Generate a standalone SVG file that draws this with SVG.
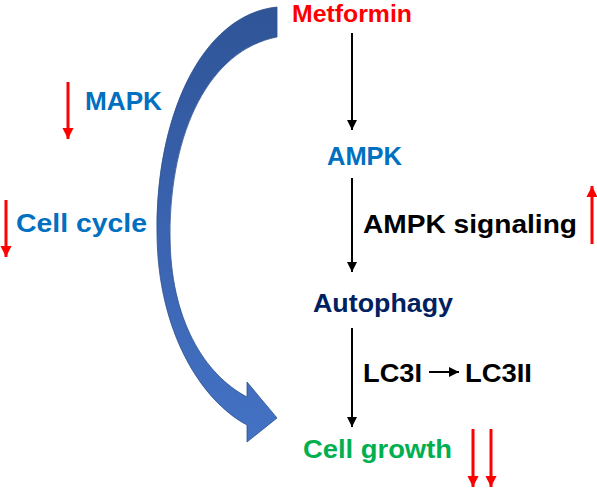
<svg xmlns="http://www.w3.org/2000/svg" width="597" height="488" viewBox="0 0 597 488">
<style>
text{font-family:"Liberation Sans",Arial,sans-serif;font-weight:bold;font-size:26px}
.blk{stroke:#000;stroke-width:2;fill:none}
.red{stroke:#FF0000;stroke-width:3;fill:none}
</style>
<defs>
<linearGradient id="g" x1="0" y1="0" x2="0" y2="1">
<stop offset="0" stop-color="#2F5597"/>
<stop offset="0.5" stop-color="#3A63B0"/>
<stop offset="1" stop-color="#4472C4"/>
</linearGradient>
<marker id="ab" viewBox="0 0 10 10" refX="10" refY="5" markerWidth="5" markerHeight="5" orient="auto" markerUnits="strokeWidth">
<path d="M0,0 L10,5 L0,10 Z" fill="#000"/>
</marker>
<marker id="ar" viewBox="0 0 10 10" refX="10" refY="5" markerWidth="4" markerHeight="3.7" orient="auto" markerUnits="strokeWidth">
<path d="M0,0 L10,5 L0,10 Z" fill="#FF0000"/>
</marker>
</defs>
<g id="connectors">
<path id="curved-arrow" d="M277,7 C200,15 155,120 157,235 C158,330 200,400 247,425 L247,442 L277,418 L247,382 L247,397 C205,375 170,320 170,235 C170,130 210,50 277,37 Z" fill="url(#g)" stroke="#2F528F" stroke-width="0.8"/>
<line class="blk" x1="352" y1="33" x2="352" y2="130" marker-end="url(#ab)"/>
<line class="blk" x1="352" y1="178" x2="352" y2="272" marker-end="url(#ab)"/>
<line class="blk" x1="352" y1="328" x2="352" y2="427" marker-end="url(#ab)"/>
<line class="blk" x1="429" y1="372" x2="459" y2="372" marker-end="url(#ab)"/>
<line class="red" x1="68" y1="82" x2="68" y2="139" marker-end="url(#ar)"/>
<line class="red" x1="6" y1="200" x2="6" y2="257" marker-end="url(#ar)"/>
<line class="red" x1="592" y1="244" x2="592" y2="186" marker-end="url(#ar)"/>
<line class="red" x1="473" y1="429" x2="473" y2="487" marker-end="url(#ar)"/>
<line class="red" x1="491" y1="429" x2="491" y2="487" marker-end="url(#ar)"/>
</g>
<g id="metformin"><text x="292" y="22" fill="#FF0000" font-size="24" style="font-size:24px" textLength="120" lengthAdjust="spacingAndGlyphs">Metformin</text></g>
<g id="ampk"><text x="327" y="165" fill="#0070C0" textLength="75" lengthAdjust="spacingAndGlyphs">AMPK</text></g>
<g id="ampk-signaling"><text x="363" y="233" fill="#000" textLength="214" lengthAdjust="spacingAndGlyphs">AMPK signaling</text></g>
<g id="autophagy"><text x="313" y="312" fill="#002060" textLength="140" lengthAdjust="spacingAndGlyphs">Autophagy</text></g>
<g id="lc3i"><text x="363" y="382" fill="#000" textLength="59" lengthAdjust="spacingAndGlyphs">LC3I</text></g>
<g id="lc3ii"><text x="465" y="382" fill="#000" textLength="67" lengthAdjust="spacingAndGlyphs">LC3II</text></g>
<g id="cell-growth"><text x="303" y="458" fill="#00B050" textLength="149" lengthAdjust="spacingAndGlyphs">Cell growth</text></g>
<g id="mapk"><text x="85" y="110" fill="#0070C0" textLength="77" lengthAdjust="spacingAndGlyphs">MAPK</text></g>
<g id="cell-cycle"><text x="16" y="232" fill="#0070C0" textLength="131" lengthAdjust="spacingAndGlyphs">Cell cycle</text></g>
</svg>
